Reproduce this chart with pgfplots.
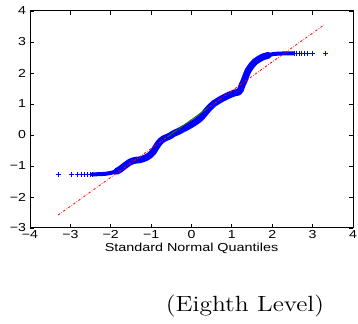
\documentclass[border=0pt]{standalone}
\usepackage{fontspec}
\usepackage{graphicx}
\usepackage{pgfplots}
\pgfplotsset{compat=1.18}
\newfontfamily\arial{Liberation Sans}
\newcommand{\hs}[2][1.22]{\scalebox{#1}[1]{#2}}
\begin{document}
\begin{tikzpicture}
\useasboundingbox (-15pt,-48pt) rectangle (164pt,114pt);
\begin{axis}[at={(0,0)}, anchor=south west, scale only axis,
  width=161.5pt, height=108.5pt,
  xmin=-4, xmax=4, ymin=-3, ymax=4,
  xtick={-4,-3,-2,-1,0,1,2,3,4}, ytick={-3,-2,-1,0,1,2,3,4},
  xticklabels={\hs{−4},\hs{−3},\hs{−2},\hs{−1},\hs{0},\hs{1},\hs{2},\hs{3},\hs{4}},
  yticklabels={\hs{−3},\hs{−2},\hs{−1},\hs{0},\hs{1},\hs{2},\hs{3},\hs{4}},
  tick align=inside, major tick length=2pt,
  tick style={black, line width=0.4pt},
  axis line style={line width=0.5pt},
  tick label style={font=\arial\fontsize{5.8}{6}\selectfont, inner sep=1pt},
  yticklabel style={xshift=-0.8pt},
  xlabel={\hs[1.24]{Standard Normal Quantiles}},
  xlabel style={font=\arial\fontsize{5.8}{6}\selectfont, inner sep=0pt,
    at={(axis description cs:0.5,0)}, anchor=center, yshift=-10pt},
  clip=false]
\addplot[blue, line width=2pt, line join=round, line cap=round] coordinates {
(-2.45,-1.27) (-2.3,-1.265) (-2.15,-1.255) (-2.02,-1.23) (-1.9,-1.19)
(-1.77,-1.11) (-1.68,-1.02) (-1.61,-0.95) (-1.52,-0.87) (-1.44,-0.83)
(-1.36,-0.81) (-1.28,-0.80) (-1.20,-0.77) (-1.11,-0.72) (-1.03,-0.65)
(-0.95,-0.55) (-0.88,-0.40) (-0.82,-0.28) (-0.76,-0.19) (-0.70,-0.13)
(-0.62,-0.08) (-0.53,-0.03) (-0.45,0.04) (-0.30,0.13) (-0.20,0.20)
(-0.08,0.28) (0.05,0.38) (0.13,0.45) (0.22,0.54) (0.29,0.64)
(0.37,0.77) (0.46,0.90) (0.56,1.02) (0.66,1.10) (0.75,1.17)
(0.83,1.22) (0.92,1.28) (0.99,1.32) (1.08,1.36) (1.16,1.38)
(1.21,1.45) (1.25,1.60) (1.30,1.74) (1.36,1.95) (1.40,2.07)
(1.48,2.23) (1.57,2.36) (1.67,2.45) (1.77,2.52) (1.90,2.57)
(2.02,2.61) (2.15,2.625) (2.27,2.63) (2.40,2.635) (2.52,2.635)
};
\addplot[blue, line width=3.4pt, line join=round, line cap=round] coordinates {
(-1.85,-1.17)
(-1.77,-1.11) (-1.68,-1.02) (-1.61,-0.95) (-1.52,-0.87) (-1.44,-0.83)
(-1.36,-0.81) (-1.28,-0.80) (-1.20,-0.77) (-1.11,-0.72) (-1.03,-0.65)
(-0.95,-0.55) (-0.88,-0.40) (-0.82,-0.28) (-0.76,-0.19) (-0.70,-0.13)
(-0.62,-0.08) (-0.53,-0.03) (-0.45,0.04) (-0.30,0.13) (-0.20,0.20)
(-0.08,0.28) (0.05,0.38) (0.13,0.45) (0.22,0.54) (0.29,0.64)
(0.37,0.77) (0.46,0.90) (0.56,1.02) (0.66,1.10) (0.75,1.17)
(0.83,1.22) (0.92,1.28) (0.99,1.32) (1.08,1.36) (1.16,1.38)
(1.21,1.45) (1.25,1.60) (1.30,1.74) (1.36,1.95) (1.40,2.07)
(1.48,2.23) (1.57,2.36) (1.67,2.45) (1.77,2.52) (1.90,2.57)
};
\addplot[blue, only marks, mark=+, mark size=1.3pt, mark options={line width=0.5pt}] coordinates {
(-3.30,-1.27) (-2.97,-1.27) (-2.82,-1.27) (-2.72,-1.27) (-2.64,-1.27)
(-2.57,-1.27) (-2.51,-1.27) (-2.46,-1.27)
(2.55,2.635) (2.61,2.635) (2.67,2.635) (2.73,2.635) (2.80,2.635)
(2.88,2.635) (3.00,2.635) (3.31,2.635)
};
\addplot[red, line width=0.4pt, dash pattern=on 1.2pt off 0.8pt on 0.3pt off 0.8pt] coordinates {(-3.30,-2.58) (3.28,3.55)};
\addplot[color={rgb,1:red,0;green,0.5;blue,0}, line width=0.4pt] coordinates {(-0.6,-0.065) (0.4,0.867)};
\node[font=\fontsize{11}{13}\selectfont] at (rel axis cs:0.6656,-0.359) {\hs[1.16]{(Eighth Level)}};
\end{axis}
\end{tikzpicture}
\end{document}
